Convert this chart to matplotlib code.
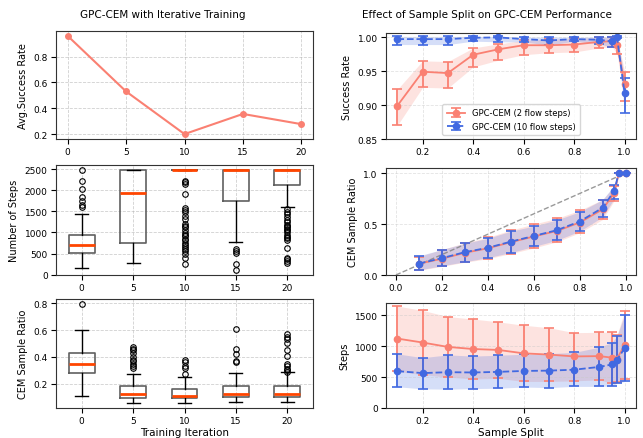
import matplotlib
matplotlib.use("Agg")
import matplotlib.pyplot as plt

# ---------------- data: left column ----------------
iterations = [0, 5, 10, 15, 20]
avg_success = [0.96, 0.53, 0.20, 0.356, 0.277]

steps_med = [710, 1925, 2485, 2485, 2485]
steps_q1 = [525, 760, 2485, 1750, 2125]
steps_q3 = [945, 2485, 2485, 2485, 2485]
steps_lo = [150, 285, 2485, 770, 1595]
steps_hi = [1445, 2485, 2485, 2485, 2485]
steps_fliers = [
    [1605, 1645, 1740, 1835, 2030, 2230, 2490],
    [],
    [2230, 2195, 2160, 1910, 1580, 1525, 1485, 1390, 1325, 1190, 1160, 1130,
     1070, 995, 945, 915, 850, 810, 750, 715, 665, 610, 550, 495, 405, 245],
    [605, 550, 510, 245, 120],
    [1550, 1490, 1430, 1370, 1300, 1250, 1180, 1150, 1120, 1080, 1050, 1000,
     950, 900, 860, 820, 630, 400, 360, 320, 280],
]

ratio_med = [0.349, 0.123, 0.110, 0.123, 0.123]
ratio_q1 = [0.280, 0.091, 0.091, 0.100, 0.100]
ratio_q3 = [0.429, 0.178, 0.158, 0.178, 0.178]
ratio_lo = [0.108, 0.054, 0.056, 0.060, 0.063]
ratio_hi = [0.603, 0.272, 0.250, 0.280, 0.290]
ratio_fliers = [
    [0.795],
    [0.32, 0.33, 0.35, 0.37, 0.38, 0.40, 0.43, 0.45, 0.46, 0.475],
    [0.27, 0.32, 0.33, 0.36, 0.38],
    [0.36, 0.37, 0.42, 0.46, 0.61],
    [0.29, 0.30, 0.31, 0.33, 0.35, 0.41, 0.45, 0.50, 0.53, 0.55, 0.57],
]

# ---------------- data: right column ----------------
split = [0.1, 0.2, 0.3, 0.4, 0.5, 0.6, 0.7, 0.8, 0.9, 0.95, 0.97, 1.0]

sr2_mean = [0.899, 0.949, 0.947, 0.974, 0.982, 0.988, 0.988, 0.989, 0.993, 0.994, 0.989, 0.931]
sr2_lo = [0.870, 0.926, 0.925, 0.956, 0.966, 0.974, 0.977, 0.978, 0.984, 0.986, 0.975, 0.906]
sr2_hi = [0.923, 0.965, 0.964, 0.984, 0.990, 0.995, 0.997, 0.998, 1.000, 1.000, 1.000, 0.949]
sr10_mean = [0.997, 0.997, 0.997, 0.999, 0.9995, 0.997, 0.995, 0.997, 0.996, 0.9935, 0.9995, 0.917]
sr10_lo = [0.989, 0.989, 0.989, 0.994, 0.993, 0.993, 0.988, 0.994, 0.990, 0.985, 0.998, 0.889]
sr10_hi = [1.001, 1.001, 1.001, 1.001, 1.001, 1.000, 1.000, 1.000, 1.000, 1.000, 1.001, 0.940]

cr2_mean = [0.110, 0.160, 0.218, 0.262, 0.322, 0.378, 0.432, 0.515, 0.645, 0.805, 1.0, 1.0]
cr2_lo = [0.045, 0.085, 0.125, 0.160, 0.210, 0.265, 0.325, 0.415, 0.545, 0.730, 1.0, 1.0]
cr2_hi = [0.180, 0.250, 0.315, 0.370, 0.440, 0.500, 0.555, 0.635, 0.740, 0.870, 1.0, 1.0]
cr10_mean = [0.112, 0.165, 0.224, 0.267, 0.327, 0.383, 0.439, 0.525, 0.660, 0.825, 1.0, 1.0]
cr10_lo = [0.050, 0.090, 0.130, 0.170, 0.220, 0.280, 0.340, 0.430, 0.570, 0.750, 1.0, 1.0]
cr10_hi = [0.188, 0.250, 0.310, 0.360, 0.430, 0.480, 0.540, 0.620, 0.740, 0.880, 1.0, 1.0]

st2_mean = [1124, 1060, 989, 955, 940, 885, 865, 835, 840, 815, 800, 1021]
st2_lo = [592, 540, 500, 470, 480, 430, 430, 440, 455, 400, 420, 468]
st2_hi = [1650, 1580, 1480, 1440, 1395, 1340, 1300, 1220, 1225, 1230, 1180, 1570]
st10_mean = [597, 565, 580, 575, 585, 600, 605, 620, 665, 705, 780, 970]
st10_lo = [344, 310, 305, 315, 320, 340, 330, 350, 350, 355, 400, 430]
st10_hi = [876, 815, 860, 840, 855, 870, 880, 900, 985, 1060, 1170, 1510]

iter_labels = ["0", "5", "10", "15", "20"]
label2 = "GPC-CEM (2 flow steps)"
label10 = "GPC-CEM (10 flow steps)"

# ---------------- styling ----------------
RED = "#FA8072"
BLUE = "#4169E1"
MED = "#FF4500"
FS = 7
TFS = 6.5
plt.rcParams.update({"font.size": FS, "xtick.labelsize": TFS, "ytick.labelsize": TFS,
                     "axes.linewidth": 0.8, "axes.edgecolor": "#333333",
                     "xtick.major.pad": 2.5, "ytick.major.pad": 2.5})

W, H = 643, 439
fig = plt.figure(figsize=(W / 100, H / 100), dpi=100)


def ax_px(x0, y0, x1, y1):
    return fig.add_axes([x0 / W, 1 - y1 / H, (x1 - x0) / W, (y1 - y0) / H])


def grid_left(ax):
    ax.grid(True, linestyle="--", color="#b0b0b0", alpha=0.6, linewidth=0.6)


def grid_right(ax):
    ax.grid(True, linestyle="--", color="#c8c8c8", alpha=0.5, linewidth=0.6)


# Left column
ax1 = ax_px(56, 32, 313, 140)
ax1.plot(iterations, avg_success, "o-", color=RED, lw=1.5, ms=4)
ax1.set_xticks(iterations)
ax1.set_yticks([0.2, 0.4, 0.6, 0.8])
ax1.set_ylabel("Avg.Success Rate")
grid_left(ax1)


def box_stats(med, q1, q3, lo, hi, fl):
    return [dict(med=med[i], q1=q1[i], q3=q3[i], whislo=lo[i], whishi=hi[i], fliers=fl[i])
            for i in range(len(med))]


box_kw = dict(widths=0.5,
              boxprops=dict(color="#606060", linewidth=1.2),
              whiskerprops=dict(color="black", linewidth=1.0),
              capprops=dict(color="black", linewidth=1.0),
              medianprops=dict(color=MED, linewidth=2.0),
              flierprops=dict(marker="o", markerfacecolor="none", markeredgecolor="black",
                              markersize=4, markeredgewidth=0.8))

ax2 = ax_px(56, 166, 313, 276)
ax2.bxp(box_stats(steps_med, steps_q1, steps_q3, steps_lo, steps_hi, steps_fliers),
        positions=range(1, 6), **box_kw)
ax2.set_xticks(range(1, 6))
ax2.set_xticklabels(iter_labels)
ax2.set_xlim(0.5, 5.5)
ax2.set_yticks([0, 500, 1000, 1500, 2000, 2500])
ax2.set_ylim(-8, 2600)
ax2.set_ylabel("Number of Steps")
grid_left(ax2)

ax3 = ax_px(56, 300, 313, 409)
ax3.bxp(box_stats(ratio_med, ratio_q1, ratio_q3, ratio_lo, ratio_hi, ratio_fliers),
        positions=range(1, 6), **box_kw)
ax3.set_xticks(range(1, 6))
ax3.set_xticklabels(iter_labels)
ax3.set_xlim(0.5, 5.5)
ax3.set_yticks([0.2, 0.4, 0.6, 0.8])
ax3.set_ylim(0.017, 0.833)
ax3.set_ylabel("CEM Sample Ratio")
ax3.set_xlabel("Training Iteration", fontsize=7.5, labelpad=1)
grid_left(ax3)


# Right column
def err_plot(ax, mean, lo, hi, color, ls, label):
    yerr = [[m - l for m, l in zip(mean, lo)], [h - m for m, h in zip(mean, hi)]]
    ax.fill_between(split, lo, hi, color=color, alpha=0.22, linewidth=0)
    ax.errorbar(split, mean, yerr=yerr, fmt="o", linestyle=ls, color=color, lw=1.3,
                ms=4.5, capsize=3.5, elinewidth=1.3, capthick=1.2, label=label)


ax4 = ax_px(386, 34, 636, 140)
err_plot(ax4, sr2_mean, sr2_lo, sr2_hi, RED, "-", label2)
err_plot(ax4, sr10_mean, sr10_lo, sr10_hi, BLUE, "--", label10)
ax4.set_ylim(0.85, 1.006)
ax4.set_xlim(0.055, 1.045)
ax4.set_xticks([0.2, 0.4, 0.6, 0.8, 1.0])
ax4.set_yticks([0.85, 0.90, 0.95, 1.00])
ax4.set_ylabel("Success Rate")
ax4.legend(loc="lower center", fontsize=6, handlelength=2.2, borderpad=0.5)
grid_right(ax4)

ax5 = ax_px(386, 169, 636, 276)
ax5.plot([0, 1], [0, 1], "--", color="gray", lw=1.0, alpha=0.8)
err_plot(ax5, cr2_mean, cr2_lo, cr2_hi, RED, "-", label2)
err_plot(ax5, cr10_mean, cr10_lo, cr10_hi, BLUE, "--", label10)
ax5.set_ylim(0, 1.05)
ax5.set_xlim(-0.043, 1.045)
ax5.set_xticks([0.0, 0.2, 0.4, 0.6, 0.8, 1.0])
ax5.set_yticks([0.0, 0.5, 1.0])
ax5.set_ylabel("CEM Sample Ratio")
grid_right(ax5)

ax6 = ax_px(386, 304, 636, 409)
err_plot(ax6, st2_mean, st2_lo, st2_hi, RED, "-", label2)
err_plot(ax6, st10_mean, st10_lo, st10_hi, BLUE, "--", label10)
ax6.set_ylim(0, 1700)
ax6.set_xlim(0.055, 1.045)
ax6.set_xticks([0.2, 0.4, 0.6, 0.8, 1.0])
ax6.set_yticks([0, 500, 1000, 1500])
ax6.set_ylabel("Steps")
ax6.set_xlabel("Sample Split", fontsize=7.5, labelpad=1)
grid_right(ax6)

fig.text(163 / W, 1 - 15 / H, "GPC-CEM with Iterative Training", ha="center", va="center", fontsize=7.5)
fig.text(487 / W, 1 - 15 / H, "Effect of Sample Split on GPC-CEM Performance", ha="center", va="center", fontsize=7.5)

fig.savefig("out.png", dpi=100)
